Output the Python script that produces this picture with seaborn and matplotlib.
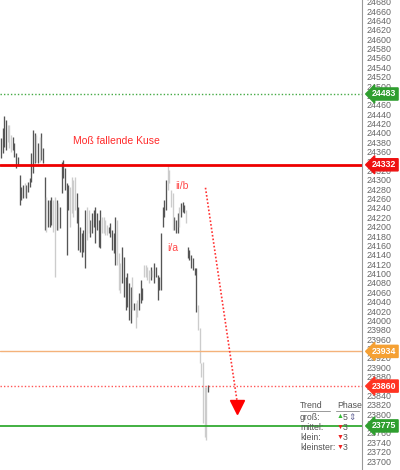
import numpy as np
import pandas as pd
import matplotlib
matplotlib.use("Agg")
import matplotlib.pyplot as plt
import matplotlib.transforms as mtransforms
import seaborn as sns

# bar ranges (high, low), D = dark bar, L = light bar
highs = [24389, 24410, 24436, 24428, 24417, 24417, 24396, 24391, 24379, 24357,
         24349, 24310, 24285, 24289, 24293, 24289, 24296, 24304, 24357, 24406,
         24400, 24396, 24379, 24391, 24400, 24368, 24306, 24263, 24257, 24257,
         24263, 24257, 24263, 24257, 24250, 24242, 24338, 24342, 24325, 24293,
         24289, 24285, 24306, 24300, 24306, 24272, 24242, 24199, 24187, 24193,
         24236, 24242, 24236, 24214, 24229, 24236, 24242, 24229, 24214, 24236,
         24221, 24221, 24214, 24204, 24199, 24208, 24193, 24187, 24221, 24214,
         24144, 24123, 24157, 24135, 24093, 24101, 24080, 24072, 24093, 24037,
         24037, 24044, 24059, 24086, 24069, 24118, 24118, 24114, 24108, 24114,
         24108, 24123, 24114, 24097, 24093, 24187, 24242, 24257, 24300, 24332,
         24321, 24278, 24272, 24221, 24214, 24229, 24242, 24250, 24253, 24246,
         24236, 24157, 24150, 24140, 24133, 24112, 24112, 24033, 23984, 23909,
         23911, 23858, 23858, 23862]
lows = [24347, 24357, 24370, 24364, 24381, 24368, 24359, 24364, 24349, 24325,
        24332, 24246, 24257, 24261, 24263, 24261, 24274, 24285, 24296, 24315,
        24336, 24338, 24336, 24338, 24342, 24336, 24193, 24189, 24199, 24199,
        24204, 24189, 24093, 24193, 24193, 24197, 24272, 24304, 24278, 24140,
        24236, 24199, 24229, 24221, 24236, 24208, 24150, 24146, 24135, 24146,
        24112, 24172, 24187, 24178, 24187, 24199, 24165, 24193, 24157, 24155,
        24187, 24187, 24182, 24182, 24187, 24178, 24150, 24144, 24118, 24118,
        24065, 24059, 24080, 24050, 24022, 24029, 24001, 23995, 24022, 24022,
        23984, 24008, 24022, 24037, 24044, 24093, 24093, 24086, 24080, 24086,
        24093, 24080, 24093, 24044, 24065, 24065, 24199, 24221, 24236, 24278,
        24293, 24242, 24193, 24193, 24187, 24187, 24199, 24221, 24231, 24229,
        24208, 24133, 24129, 24112, 24108, 24097, 24018, 23980, 23909, 23879,
        23781, 23751, 23745, 23847]
shades = list("DDDDLLLDDD" "DDDDLDDDDD" "DLDLDDDLDD" "DLLDLDDDDD" "DLLLLDDDDD"
              "DLLDDDDDDD" "LLLLDDDDDL" "LLDDDDDDLD" "LLDDDLLLLD" "LDDDDDDDDL"
              "LLLDDDLDDD" "LDDDDDDLLL" "LLLD")

levels = [24483, 24332, 23934, 23860, 23775]
level_colors = ["#2f9e2f", "#ee1111", "#f5a033", "#ff3322", "#2f9e2f"]
tick_values = list(range(23700, 24681, 20))

trend_rows = ["groß:", "mittel:", "klein:", "kleinster:"]
phase_dirs = ["▲", "▼", "▼", "▼"]
phase_vals = ["5", "3", "3", "3"]

arrow_start = (121.5, 24283)
arrow_end = (140.5, 23822)

n = min(len(highs), len(lows), len(shades))
bars = pd.DataFrame({"x": np.arange(n), "high": highs[:n], "low": lows[:n],
                     "shade": shades[:n]})

sns.set_theme(style="white")
plt.rcParams["font.family"] = ["Liberation Sans", "DejaVu Sans"]

fig = plt.figure(figsize=(4, 4.7), dpi=100)
ax = fig.add_axes([0, 0, 362 / 400, 1])

palette = {"D": "#555555", "L": "#cccccc"}
for shade, grp in bars.groupby("shade"):
    ax.vlines(grp["x"], grp["low"], grp["high"], color=palette[shade], lw=0.95, zorder=2)

ax.axhline(levels[0], color="#44aa44", lw=1, ls=(0, (1, 1.5)), zorder=3)
ax.axhline(levels[1], color="#ee0000", lw=2, zorder=3)
ax.axhline(levels[2], color="#f4b27a", lw=1, zorder=3)
ax.axhline(levels[3], color="#ff5555", lw=1, ls=(0, (1, 1.5)), zorder=3)
ax.axhline(levels[4], color="#33aa33", lw=1.3, zorder=3)

ax.plot([arrow_start[0], arrow_end[0]], [arrow_start[1], arrow_end[1]],
        color="#ff3333", lw=1.2, ls=(0, (1, 1.2)), zorder=4)
ax.plot([arrow_end[0]], [arrow_end[1] - 6], marker="v", ms=10, color="#ff0000",
        mec="#ff0000", zorder=5)

ax.text(43, 24383, "Moß fallende Kuse", color="#ff2a2a", fontsize=7.5, va="center")
ax.text(103.5, 24287, "ii/b", color="#ff4a4a", fontsize=7.5, va="center")
ax.text(98.5, 24154, "i/a", color="#ff4a4a", fontsize=7.5, va="center")

ax.set_xlim(-0.6, 214.5)
ax.set_ylim(23681, 24683.5)
ax.set_xticks([])
ax.yaxis.tick_right()
ax.set_yticks(tick_values)
ax.tick_params(axis="y", length=0, pad=3, labelsize=6.4, labelcolor="#666666")
for side in ["top", "bottom", "left"]:
    ax.spines[side].set_visible(False)
ax.spines["right"].set_color("#999999")
ax.spines["right"].set_linewidth(0.8)

trans = mtransforms.blended_transform_factory(ax.transAxes, ax.transData)
for lvl, col in zip(levels, level_colors):
    ax.text(1.028, lvl, str(lvl), transform=trans, color="white", fontsize=6.3,
            fontweight="bold", va="center", ha="left", zorder=10, clip_on=False,
            bbox=dict(boxstyle="larrow,pad=0.18", fc=col, ec=col))

def fy(py):
    return 1 - py / 470

txt = "#555555"
fig.text(300 / 400, fy(405), "Trend", fontsize=6.3, color=txt, va="center")
fig.text(337 / 400, fy(405), "Phase", fontsize=6.3, color=txt, va="center")
fig.add_artist(plt.Line2D([300 / 400, 330 / 400], [fy(411), fy(411)], color="#999999", lw=0.7))
fig.add_artist(plt.Line2D([336 / 400, 359 / 400], [fy(411), fy(411)], color="#999999", lw=0.7))
row_y = [417, 427, 437, 447]
for name, d, v, py in zip(trend_rows, phase_dirs, phase_vals, row_y):
    fig.text(300 / 400, fy(py), name, fontsize=6.3, color=txt, va="center")
    fig.text(337 / 400, fy(py), d, fontsize=5, va="center",
             color="#33bb33" if d == "▲" else "#ee2222")
    fig.text(342.5 / 400, fy(py), v, fontsize=6.3, color=txt, va="center")
fig.text(348 / 400, fy(417), "⇕", fontsize=6.3, color="#666699", va="center",
         family=["DejaVu Sans"])

fig.savefig("out.png", dpi=100)
